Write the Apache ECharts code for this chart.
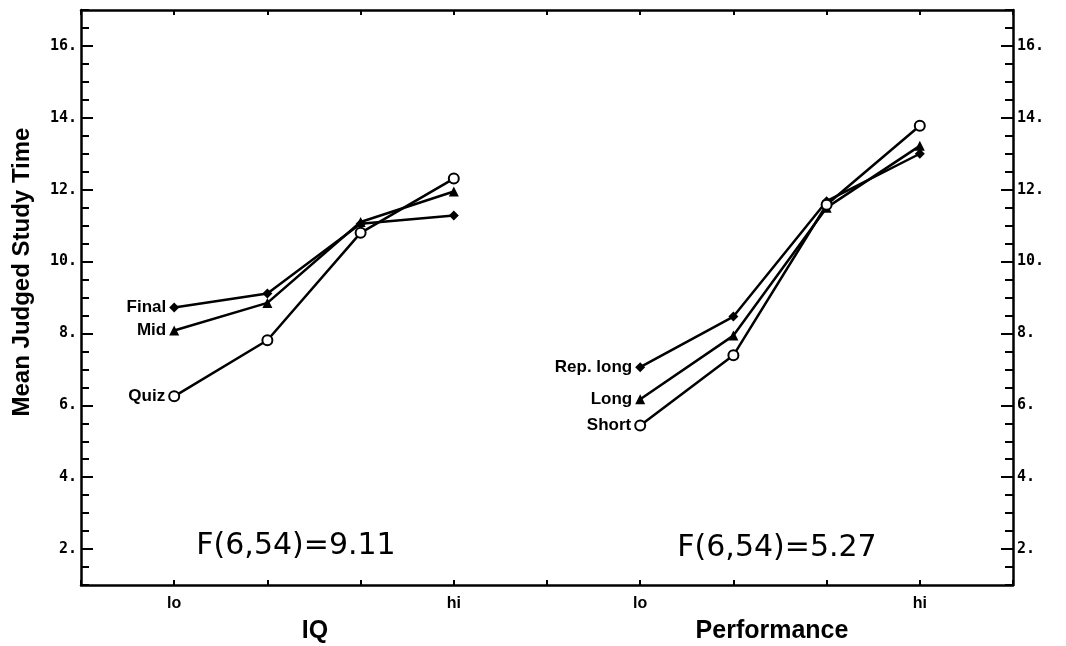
<!DOCTYPE html>
<html>
<head>
<meta charset="utf-8">
<script src="https://cdn.jsdelivr.net/npm/echarts@6/dist/echarts.min.js"></script>
<style>html,body{margin:0;padding:0;background:#fff}#c{width:1066px;height:646px}</style>
</head>
<body>
<div id="c"></div>
<script>
// Levels (tick labels) per panel
const iqLevels = ['lo', '', '', 'hi'];
const perfLevels = ['lo', '', '', 'hi'];
// IQ panel series
const iqFinal = [8.72, 9.11, 11.05, 11.28];
const iqMid = [8.08, 8.85, 11.1, 11.95];
const iqQuiz = [6.25, 7.81, 10.8, 12.31];
// Performance panel series
const perfRepLong = [7.06, 8.47, 11.68, 13.0];
const perfLong = [6.17, 7.94, 11.5, 13.22];
const perfShort = [5.44, 7.39, 11.58, 13.78];
// Y tick labels
const yTicks = [2, 4, 6, 8, 10, 12, 14, 16];
const stats = ['F(6,54)=9.11', 'F(6,54)=5.27'];

const iqOffset = 1, perfOffset = 6;
const xLabelMap = {};
iqLevels.forEach((l, i) => { if (l) xLabelMap[i + iqOffset] = l; });
perfLevels.forEach((l, i) => { if (l) xLabelMap[i + perfOffset] = l; });

function mk(name, vals, offset, symbol, size, hollow) {
  return {
    type: 'line', name: name, yAxisIndex: 0,
    data: vals.map((v, i) => ({
      value: [i + offset, v],
      label: i === 0 ? { show: true, position: 'left', distance: 3, formatter: name,
        color: '#000', fontFamily: 'Liberation Sans', fontWeight: 'bold', fontSize: 17 } : { show: false }
    })),
    symbol: symbol, symbolSize: size, showSymbol: true,
    lineStyle: { color: '#000', width: 2.5 },
    itemStyle: { color: '#000', borderColor: '#000', borderWidth: hollow ? 2.5 : 0 },
    emphasis: { disabled: true }, animation: false, z: 3
  };
}

const chart = echarts.init(document.getElementById('c'), null, { renderer: 'canvas' });
const yFmt = v => (yTicks.indexOf(v) >= 0 ? v + '.' : '');
const baseX = { type: 'value', min: 0, max: 10, interval: 1, splitLine: { show: false },
  axisLine: { show: true, onZero: false, lineStyle: { color: '#000', width: 2.5 } },
  axisTick: { show: true, inside: true, length: 5, lineStyle: { color: '#000', width: 2 } } };
const baseY = { type: 'value', min: 1, max: 17, interval: 0.5, splitLine: { show: false },
  axisLine: { show: true, onZero: false, lineStyle: { color: '#000', width: 2.5 } },
  axisTick: { show: true, inside: true, length: 8, lineStyle: { color: '#000', width: 2 } },
  axisLabel: { formatter: yFmt, color: '#000', fontFamily: 'DejaVu Sans Mono', fontWeight: 'bold', fontSize: 15, margin: 4 } };
const majorY = { type: 'value', min: 1, max: 17, splitLine: { show: false },
  axisLine: { show: false, onZero: false },
  axisTick: { show: true, inside: true, length: 12, customValues: yTicks, lineStyle: { color: '#000', width: 2 } },
  axisLabel: { show: false } };

chart.setOption({
  animation: false,
  backgroundColor: '#fff',
  grid: { left: 81, right: 53, top: 10, bottom: 61, containLabel: false },
  xAxis: [
    Object.assign({}, baseX, { position: 'bottom',
      axisLabel: { formatter: v => xLabelMap[v] || '', color: '#000', fontFamily: 'Liberation Sans', fontWeight: 'bold', fontSize: 16, margin: 11, showMinLabel: true, showMaxLabel: true } }),
    Object.assign({}, baseX, { position: 'top', axisLabel: { show: false } })
  ],
  yAxis: [
    Object.assign({}, baseY, { position: 'left' }),
    Object.assign({}, baseY, { position: 'right' }),
    Object.assign({}, majorY, { position: 'left' }),
    Object.assign({}, majorY, { position: 'right' })
  ],
  series: [
    mk('Final', iqFinal, iqOffset, 'diamond', 10, false),
    mk('Mid', iqMid, iqOffset, 'triangle', 10, false),
    mk('Quiz', iqQuiz, iqOffset, 'emptyCircle', 10, true),
    mk('Rep. long', perfRepLong, perfOffset, 'diamond', 10, false),
    mk('Long', perfLong, perfOffset, 'triangle', 10, false),
    mk('Short', perfShort, perfOffset, 'emptyCircle', 10, true)
  ],
  graphic: [
    { type: 'text', x: 296, y: 546, style: { text: stats[0], font: '30px "DejaVu Sans"', fill: '#000', textAlign: 'center', textVerticalAlign: 'middle' } },
    { type: 'text', x: 777, y: 548, style: { text: stats[1], font: '30px "DejaVu Sans"', fill: '#000', textAlign: 'center', textVerticalAlign: 'middle' } },
    { type: 'text', x: 315, y: 631, style: { text: 'IQ', font: 'bold 25px "Liberation Sans"', fill: '#000', textAlign: 'center', textVerticalAlign: 'middle' } },
    { type: 'text', x: 772, y: 631, style: { text: 'Performance', font: 'bold 25px "Liberation Sans"', fill: '#000', textAlign: 'center', textVerticalAlign: 'middle' } },
    { type: 'text', x: 22, y: 272, rotation: Math.PI / 2, style: { text: 'Mean Judged Study Time', font: 'bold 24px "Liberation Sans"', fill: '#000', textAlign: 'center', textVerticalAlign: 'middle' } }
  ]
});
</script>
</body>
</html>
